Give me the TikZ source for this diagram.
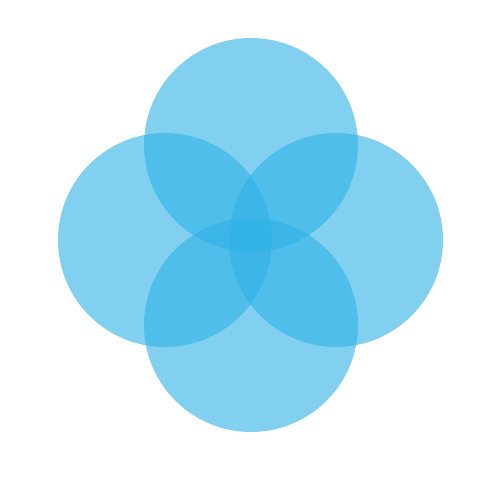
\documentclass[tikz,border=0pt]{standalone}
\usepackage{tikz}
\definecolor{petalblue}{RGB}{47,177,230}

\begin{document}
\begin{tikzpicture}[x=0.02cm, y=-0.02cm,
    petal/.style={circle, fill=petalblue, fill opacity=0.6, inner sep=0pt, minimum size=4.28cm}]
        \useasboundingbox (0,0) rectangle (500,500);
        \node (top)    [petal] at (251,145) {};
        \node (left)   [petal] at (165,240) {};
        \node (right)  [petal] at (336,240) {};
        \node (bottom) [petal] at (251,325) {};
    \end{tikzpicture}
\end{document}
